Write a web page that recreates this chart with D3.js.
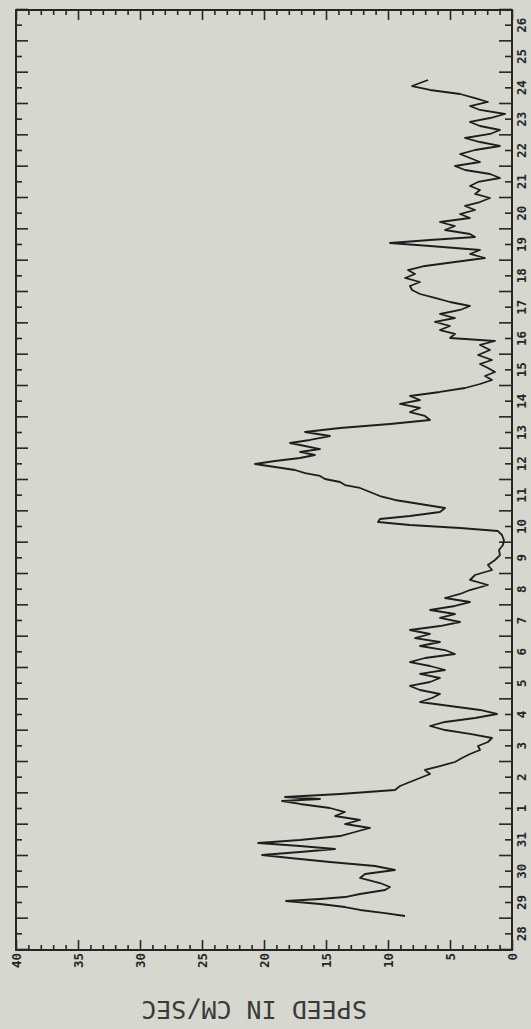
<!DOCTYPE html>
<html><head><meta charset="utf-8">
<script src="https://cdn.jsdelivr.net/npm/d3@7"></script>
<style>
html,body{margin:0;padding:0;background:#d6d7ce;}
svg{display:block;}
</style></head><body>
<svg id="c" width="531" height="1029"></svg>
<script>
// ---- data ----
const dayLabels = ["28","29","30","31","1","2","3","4","5","6","7","8","9","10","11","12","13","14","15","16","17","18","19","20","21","22","23","24","25","26"];
const speedTicks = [0,5,10,15,20,25,30,35,40];
const speedTickLabels = ["0","5","10","15","20","25","30","35","40"];
const axisTitle = "SPEED IN CM/SEC";
// time in days since start of the 28th, speed in cm/s
const timeDays = [1.085,1.18,1.277,1.372,1.468,1.564,1.628,1.691,1.787,1.915,2.011,2.138,2.298,2.426,2.553,2.681,2.809,2.936,3.032,3.128,3.223,3.319,3.415,3.511,3.638,3.766,
3.894,4.021,4.149,4.277,4.404,4.532,4.66,4.755,4.819,4.883,4.979,5.106,5.234,5.362,5.489,5.617,5.745,5.872,6.0,6.128,6.255,6.383,6.511,6.638,6.766,6.894,7.021,7.149,7.277,7.404,7.532,7.66,7.787,7.915,8.043,8.17,8.298,8.426,8.553,8.681,8.809,8.936,9.064,9.191,9.319,9.447,9.574,9.702,9.83,9.957,10.085,10.213,10.34,10.468,10.596,10.723,10.851,10.979,11.106,11.234,11.362,11.489,11.649,11.809,11.968,12.128,12.287,12.447,12.606,12.766,12.926,13.085,13.245,13.372,
13.468,13.564,13.66,13.755,13.851,13.979,14.106,14.234,14.362,14.489,14.617,14.745,14.84,14.936,15.032,15.128,15.223,15.319,15.415,15.511,15.606,15.702,15.798,15.894,15.989,16.085,16.181,16.277,16.404,16.532,16.66,16.787,16.915,17.043,17.17,17.298,17.426,17.553,17.681,17.809,17.936,18.064,18.191,18.319,18.447,18.574,18.702,18.83,18.989,19.149,19.309,19.436,19.532,19.66,19.787,19.915,20.043,20.17,20.298,20.426,20.553,20.681,20.809,20.936,21.064,21.191,21.319,21.447,21.574,21.702,21.83,21.957,22.085,22.213,22.34,22.468,22.564,22.66,22.755,22.851,22.979,23.106,23.234,23.362,23.489,23.617,23.745,23.872,24.0,24.128,24.255,24.383,24.511,24.638,24.766,24.894,25.021,25.149,25.277,25.404,25.532,25.66,25.787,25.915,26.043,26.17,26.298,26.426,26.553,26.681,26.809,26.936,27.064,27.191,27.319,27.447,27.574,27.67,27.766];
const speedCmSec = [8.63,10.24,12.26,13.47,15.48,18.23,15.48,13.47,12.26,10.24,9.84,10.65,12.26,11.85,9.44,11.05,14.68,17.9,20.16,17.1,14.27,17.1,20.48,17.1,13.87,12.66,
11.45,13.47,12.26,14.27,13.47,14.68,17.1,18.55,15.48,18.31,13.87,9.44,9.03,8.23,7.42,6.61,7.02,5.81,4.6,4.03,3.39,2.58,2.74,1.94,1.61,3.39,5.4,6.61,5.4,2.98,1.21,2.58,5.0,7.42,6.45,5.81,7.42,8.23,6.61,5.81,7.42,5.4,6.61,8.23,7.02,4.6,5.4,7.42,5.81,7.82,6.61,8.23,5.81,4.19,5.81,4.6,6.61,4.6,3.39,5.4,4.19,3.39,1.94,3.39,2.98,1.61,1.94,1.37,0.97,1.05,0.73,0.65,0.81,1.13,
4.19,8.23,10.81,10.65,8.23,5.81,5.4,7.42,9.44,10.65,11.45,12.26,13.47,13.87,15.08,15.48,16.69,17.5,19.11,20.73,19.11,17.1,15.89,17.1,15.48,16.69,17.9,16.29,14.68,16.69,13.87,9.84,6.61,7.02,8.23,7.42,9.03,7.42,8.23,5.81,3.79,2.58,1.61,2.18,1.37,1.94,2.58,1.61,2.74,1.77,2.58,1.37,5.0,4.6,5.81,5.0,6.21,4.6,5.81,4.19,3.39,5.0,6.21,7.42,8.06,8.23,7.42,8.63,7.82,8.39,7.02,4.6,2.18,3.39,2.58,6.61,9.84,6.61,2.98,3.39,5.4,4.6,5.81,3.39,4.19,2.98,3.79,2.58,1.77,2.98,2.58,3.39,2.74,0.97,1.77,3.79,4.6,2.58,3.39,4.19,2.98,0.97,2.58,3.79,1.77,0.97,2.58,3.39,1.77,0.56,2.58,3.39,1.94,2.98,4.19,6.61,8.06,7.42,6.77];

// ---- layout ----
const mLeft = 16, mTop = 10, mRight = 512, mBottom = 950;
const W = mBottom - mTop;   // time axis length (drawn vertically)
const H = mRight - mLeft;   // speed axis length (drawn horizontally)
const ink = "#262626";

const svg = d3.select("#c");
svg.append("rect").attr("width",531).attr("height",1029).attr("fill","#d6d7ce");

// chart built in normal orientation, then rotated -90deg
const g = svg.append("g").attr("transform", `translate(${mLeft},${mBottom}) rotate(-90)`);

const x = d3.scaleLinear().domain([0, dayLabels.length]).range([0, W]);
const y = d3.scaleLinear().domain([0, 40]).range([H, 0]);

const dayTicks = d3.range(0, dayLabels.length + 1);
const halfTicks = d3.range(0, dayLabels.length).map(d => d + 0.5);
const minorSpeed = d3.range(0, 41).filter(v => v % 5 !== 0);

function style(sel){
  sel.select(".domain").remove();
  sel.selectAll("line").attr("stroke", ink).attr("stroke-width", 1.6);
  sel.selectAll("text").attr("fill", ink)
     .attr("font-family", "'DejaVu Sans Mono', monospace")
     .attr("font-size", 12.5).attr("font-weight", "bold");
}

// time axis (bottom of unrotated chart -> right side of picture)
g.append("g").attr("transform", `translate(0,${H})`)
  .call(d3.axisBottom(x).tickValues(dayTicks).tickSize(-13).tickFormat("")).call(style);
g.append("g").attr("transform", `translate(0,${H})`)
  .call(d3.axisBottom(x).tickValues(halfTicks).tickSize(-7)
    .tickPadding(5).tickFormat((d,i) => dayLabels[i])).call(style);
// mirrored time axis (top of unrotated chart -> left side of picture)
g.append("g")
  .call(d3.axisTop(x).tickValues(dayTicks).tickSize(-12).tickFormat("")).call(style);
g.append("g")
  .call(d3.axisTop(x).tickValues(halfTicks).tickSize(-6).tickFormat("")).call(style);

// speed axis (left of unrotated chart -> bottom of picture)
g.append("g")
  .call(d3.axisLeft(y).tickValues(speedTicks).tickSize(-10).tickPadding(3)
    .tickFormat((d,i) => speedTickLabels[i])).call(style);
g.append("g")
  .call(d3.axisLeft(y).tickValues(minorSpeed).tickSize(-5).tickFormat("")).call(style);
// mirrored speed axis (right of unrotated chart -> top of picture)
g.append("g").attr("transform", `translate(${W},0)`)
  .call(d3.axisRight(y).tickValues(speedTicks).tickSize(-10).tickFormat("")).call(style);
g.append("g").attr("transform", `translate(${W},0)`)
  .call(d3.axisRight(y).tickValues(minorSpeed).tickSize(-5).tickFormat("")).call(style);

// frame
g.append("rect").attr("width", W).attr("height", H)
  .attr("fill", "none").attr("stroke", ink).attr("stroke-width", 2);

// data line
const line = d3.line().x((d,i) => x(timeDays[i])).y(d => y(d));
g.append("path").datum(speedCmSec).attr("d", line)
  .attr("fill", "none").attr("stroke", "#1e1e1e").attr("stroke-width", 1.8)
  .attr("stroke-linejoin", "round");

// axis title
g.append("text")
  .attr("transform", `translate(-60,${y(20) - 10}) rotate(-90)`)
  .attr("text-anchor", "middle").attr("dy", "0.35em")
  .attr("font-family", "'DejaVu Sans Mono', monospace")
  .attr("font-size", 25).attr("fill", "#3a3a3a")
  .text(axisTitle);
</script>
</body></html>
